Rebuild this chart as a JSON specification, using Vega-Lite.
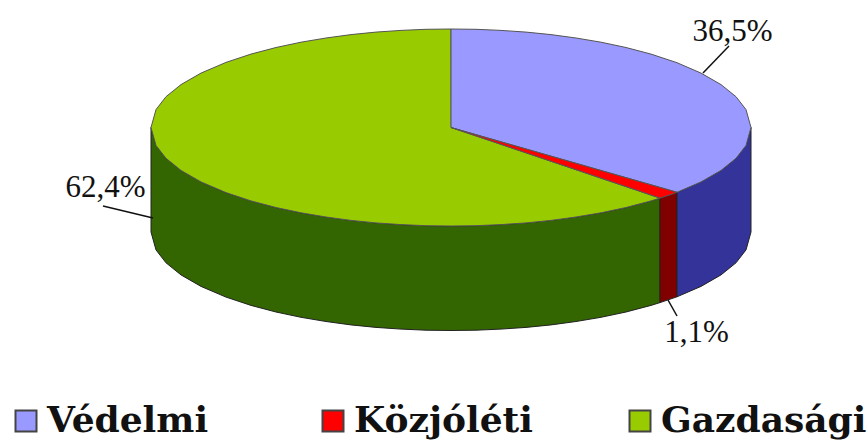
{"$schema":"https://vega.github.io/schema/vega-lite/v6.json","width":868,"height":441,"padding":0,"autosize":{"type":"none"},"background":"white","view":{"stroke":null},
"datasets":{
"top":[
{"slice":"Gazdasági","x":-300,"y":0,"y2":0},{"slice":"Gazdasági","x":-295,"y":17.9,"y2":-17.9},{"slice":"Gazdasági","x":-285,"y":30.8,"y2":-30.8},{"slice":"Gazdasági","x":-270,"y":42.9,"y2":-42.9},{"slice":"Gazdasági","x":-250,"y":54.4,"y2":-54.4},{"slice":"Gazdasági","x":-225,"y":65.1,"y2":-65.1},{"slice":"Gazdasági","x":-200,"y":73.4,"y2":-73.4},{"slice":"Gazdasági","x":-175,"y":80,"y2":-80},{"slice":"Gazdasági","x":-150,"y":85.3,"y2":-85.3},{"slice":"Gazdasági","x":-125,"y":89.5,"y2":-89.5},{"slice":"Gazdasági","x":-100,"y":92.9,"y2":-92.9},{"slice":"Gazdasági","x":-75,"y":95.4,"y2":-95.4},{"slice":"Gazdasági","x":-50,"y":97.1,"y2":-97.1},{"slice":"Gazdasági","x":-25,"y":98.2,"y2":-98.2},{"slice":"Gazdasági","x":0,"y":98.5,"y2":-98.5},{"slice":"Gazdasági","x":0.2,"y":0,"y2":-98.5},{"slice":"Gazdasági","x":25,"y":-8.4,"y2":-98.2},{"slice":"Gazdasági","x":50,"y":-16.9,"y2":-97.1},{"slice":"Gazdasági","x":75,"y":-25.3,"y2":-95.4},{"slice":"Gazdasági","x":100,"y":-33.8,"y2":-92.9},{"slice":"Gazdasági","x":125,"y":-42.2,"y2":-89.5},{"slice":"Gazdasági","x":150,"y":-50.7,"y2":-85.3},{"slice":"Gazdasági","x":175,"y":-59.1,"y2":-80},{"slice":"Gazdasági","x":200,"y":-67.6,"y2":-73.4},{"slice":"Gazdasági","x":209,"y":-70.6,"y2":-70.6},
{"slice":"Védelmi","x":0,"y":98.5,"y2":0},{"slice":"Védelmi","x":25,"y":98.2,"y2":-7.2},{"slice":"Védelmi","x":50,"y":97.1,"y2":-14.3},{"slice":"Védelmi","x":75,"y":95.4,"y2":-21.5},{"slice":"Védelmi","x":100,"y":92.9,"y2":-28.7},{"slice":"Védelmi","x":125,"y":89.5,"y2":-35.8},{"slice":"Védelmi","x":150,"y":85.3,"y2":-43},{"slice":"Védelmi","x":175,"y":80,"y2":-50.2},{"slice":"Védelmi","x":200,"y":73.4,"y2":-57.3},{"slice":"Védelmi","x":226,"y":64.8,"y2":-64.8},{"slice":"Védelmi","x":250,"y":54.4,"y2":-54.4},{"slice":"Védelmi","x":270,"y":42.9,"y2":-42.9},{"slice":"Védelmi","x":285,"y":30.8,"y2":-30.8},{"slice":"Védelmi","x":295,"y":17.9,"y2":-17.9},{"slice":"Védelmi","x":300,"y":0,"y2":0},
{"slice":"Közjóléti","x":0,"y":0,"y2":0},{"slice":"Közjóléti","x":209,"y":-59.9,"y2":-70.6},{"slice":"Közjóléti","x":220,"y":-63.1,"y2":-67},{"slice":"Közjóléti","x":226,"y":-64.8,"y2":-64.8}
],
"side":[
{"slice":"Gazdasági","x":-300,"y":0,"y2":-104.5},{"slice":"Gazdasági","x":-295,"y":-17.9,"y2":-122.4},{"slice":"Gazdasági","x":-285,"y":-30.8,"y2":-135.3},{"slice":"Gazdasági","x":-270,"y":-42.9,"y2":-147.4},{"slice":"Gazdasági","x":-250,"y":-54.4,"y2":-158.9},{"slice":"Gazdasági","x":-225,"y":-65.1,"y2":-169.6},{"slice":"Gazdasági","x":-200,"y":-73.4,"y2":-177.9},{"slice":"Gazdasági","x":-175,"y":-80,"y2":-184.5},{"slice":"Gazdasági","x":-150,"y":-85.3,"y2":-189.8},{"slice":"Gazdasági","x":-125,"y":-89.5,"y2":-194},{"slice":"Gazdasági","x":-100,"y":-92.9,"y2":-197.4},{"slice":"Gazdasági","x":-75,"y":-95.4,"y2":-199.9},{"slice":"Gazdasági","x":-50,"y":-97.1,"y2":-201.6},{"slice":"Gazdasági","x":-25,"y":-98.2,"y2":-202.7},{"slice":"Gazdasági","x":0,"y":-98.5,"y2":-203},{"slice":"Gazdasági","x":25,"y":-98.2,"y2":-202.7},{"slice":"Gazdasági","x":50,"y":-97.1,"y2":-201.6},{"slice":"Gazdasági","x":75,"y":-95.4,"y2":-199.9},{"slice":"Gazdasági","x":100,"y":-92.9,"y2":-197.4},{"slice":"Gazdasági","x":125,"y":-89.5,"y2":-194},{"slice":"Gazdasági","x":150,"y":-85.3,"y2":-189.8},{"slice":"Gazdasági","x":175,"y":-80,"y2":-184.5},{"slice":"Gazdasági","x":200,"y":-73.4,"y2":-177.9},{"slice":"Gazdasági","x":209,"y":-70.6,"y2":-175.1},
{"slice":"Közjóléti","x":209,"y":-70.6,"y2":-175.1},{"slice":"Közjóléti","x":226,"y":-64.8,"y2":-169.3},
{"slice":"Védelmi","x":226,"y":-64.8,"y2":-169.3},{"slice":"Védelmi","x":250,"y":-54.4,"y2":-158.9},{"slice":"Védelmi","x":270,"y":-42.9,"y2":-147.4},{"slice":"Védelmi","x":285,"y":-30.8,"y2":-135.3},{"slice":"Védelmi","x":295,"y":-17.9,"y2":-122.4},{"slice":"Védelmi","x":300,"y":0,"y2":-104.5}
],
"labels":[
{"slice":"Védelmi","share":"36,5%","x":281.5,"y":86.5,"lx":252,"ly":54.5,"lx2":278,"ly2":81.5},
{"slice":"Közjóléti","share":"1,1%","x":245.5,"y":-214.5,"lx":217,"ly":-172.5,"lx2":226,"ly2":-188.5},
{"slice":"Gazdasági","share":"62,4%","x":-345.5,"y":-69.5,"lx":-348,"ly":-78.5,"lx2":-298,"ly2":-90.5}
]},
"layer":[
{"data":{"name":"side"},"mark":{"type":"area","stroke":"#222","strokeWidth":1},
"encoding":{"x":{"field":"x","type":"quantitative","axis":null,"scale":{"domain":[-451,417]}},"y":{"field":"y","type":"quantitative","axis":null,"scale":{"domain":[-313.5,127.5]}},"y2":{"field":"y2"},
"color":{"field":"slice","type":"nominal","legend":null,"scale":{"domain":["Védelmi","Közjóléti","Gazdasági"],"range":["#333399","#800000","#336600"]}}}},
{"data":{"name":"top"},"mark":{"type":"area","stroke":"#555","strokeWidth":1},
"encoding":{"x":{"field":"x","type":"quantitative","axis":null,"scale":{"domain":[-451,417]}},"y":{"field":"y","type":"quantitative","axis":null,"scale":{"domain":[-313.5,127.5]}},"y2":{"field":"y2"},
"color":{"field":"slice","type":"nominal","scale":{"domain":["Védelmi","Közjóléti","Gazdasági"],"range":["#9999FF","#FF0000","#99CC00"]},
"legend":{"title":null,"orient":"none","legendX":8,"legendY":403,"direction":"horizontal","columns":3,"columnPadding":62,"gridAlign":"all","symbolType":"square","symbolSize":441,"symbolStrokeColor":"#444","symbolStrokeWidth":2,"labelFont":"DejaVu Serif","labelFontWeight":"bold","labelFontSize":36,"labelColor":"#111","labelLimit":400,"labelOffset":3,"padding":0}}}},
{"data":{"name":"labels"},"mark":{"type":"rule","color":"#111","strokeWidth":1.5},
"encoding":{"x":{"field":"lx","type":"quantitative","axis":null,"scale":{"domain":[-451,417]}},"y":{"field":"ly","type":"quantitative","axis":null,"scale":{"domain":[-313.5,127.5]}},"x2":{"field":"lx2"},"y2":{"field":"ly2"}}},
{"data":{"name":"labels"},"mark":{"type":"text","font":"Liberation Serif","fontSize":31,"color":"#111","align":"center","baseline":"alphabetic"},
"encoding":{"x":{"field":"x","type":"quantitative","axis":null,"scale":{"domain":[-451,417]}},"y":{"field":"y","type":"quantitative","axis":null,"scale":{"domain":[-313.5,127.5]}},"text":{"field":"share"}}}
],
"resolve":{"scale":{"color":"independent"}}}
